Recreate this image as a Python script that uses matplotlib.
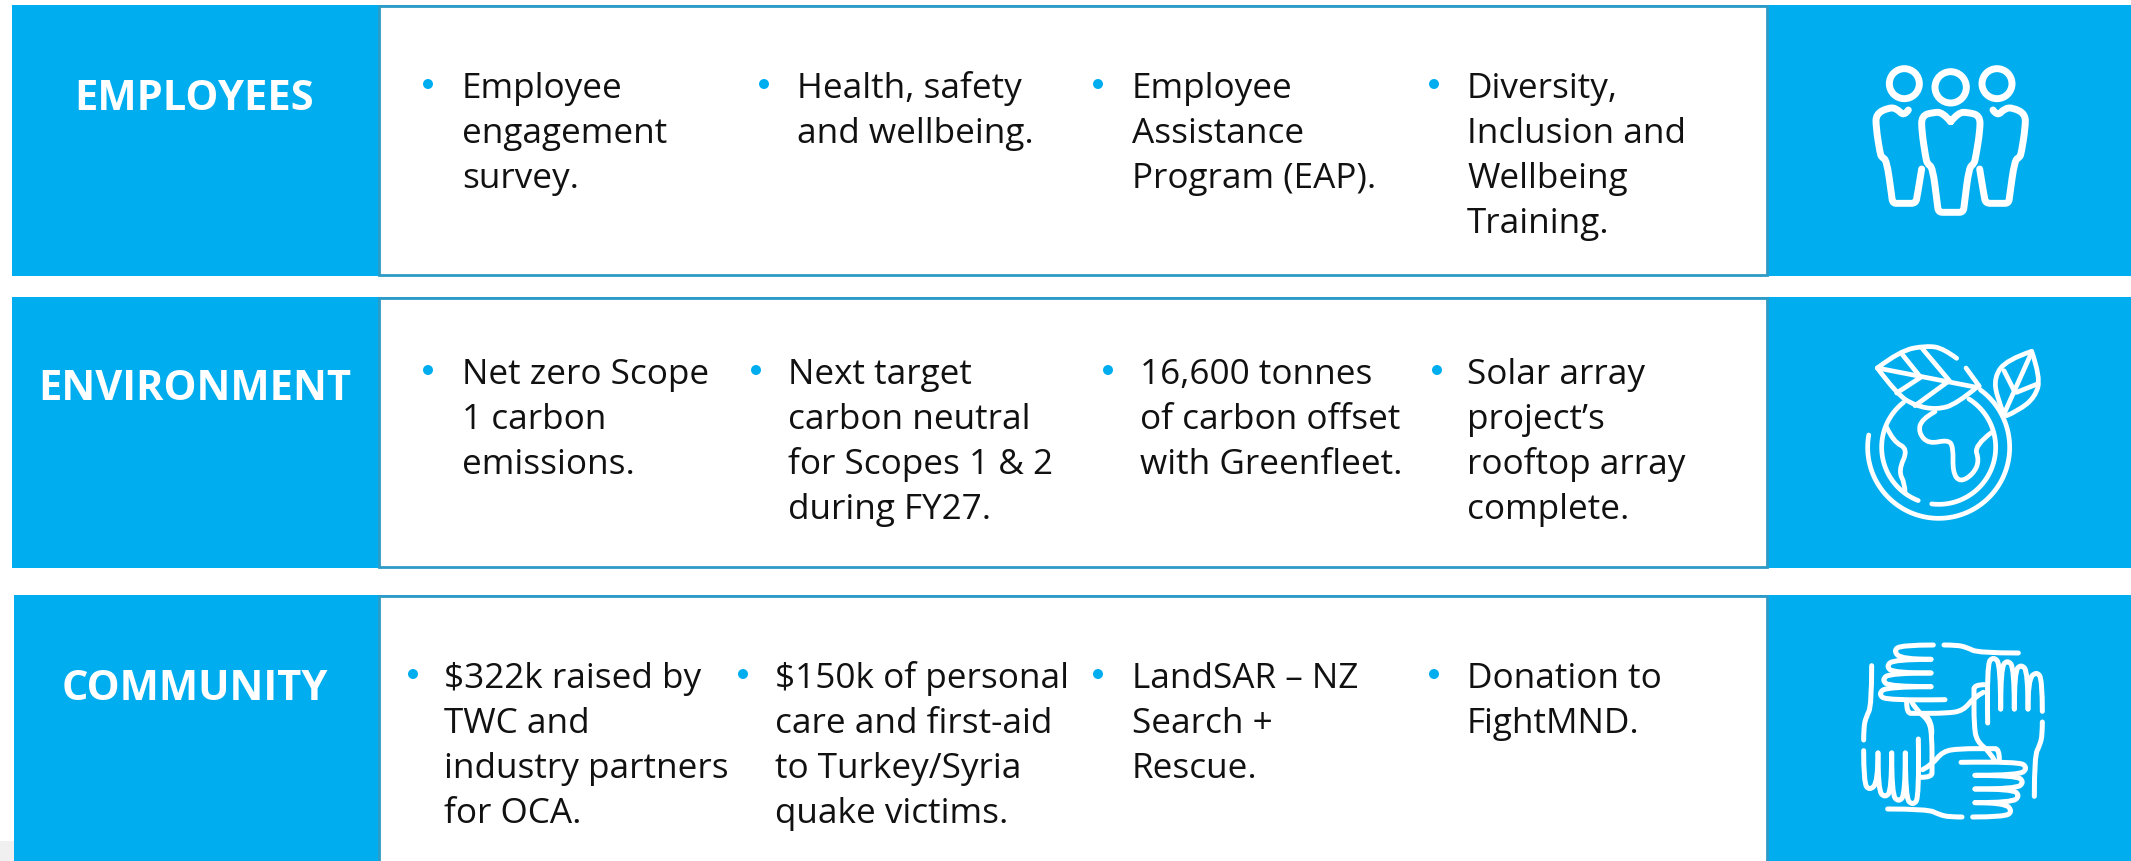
import numpy as np
import matplotlib
matplotlib.use("Agg")
from matplotlib import pyplot as plt
from matplotlib.path import Path
from matplotlib.patches import PathPatch, Rectangle, Circle

BLUE = "#00AEEF"
EDGE = "#2E9BC6"
FONT = "Open Sans"

headings = ["EMPLOYEES", "ENVIRONMENT", "COMMUNITY"]
heading_y = [110, 400, 700]

employees = [["Employee", "engagement", "survey."],
             ["Health, safety", "and wellbeing."],
             ["Employee", "Assistance", "Program (EAP)."],
             ["Diversity,", "Inclusion and", "Wellbeing", "Training."]]
environment = [["Net zero Scope", "1 carbon", "emissions."],
               ["Next target", "carbon neutral", "for Scopes 1 & 2", "during FY27."],
               ["16,600 tonnes", "of carbon offset", "with Greenfleet."],
               ["Solar array", "project\u2019s", "rooftop array", "complete."]]
community = [["$322k raised by", "TWC and", "industry partners", "for OCA."],
             ["$150k of personal", "care and first-aid", "to Turkey/Syria", "quake victims."],
             ["LandSAR \u2013 NZ", "Search +", "Rescue."],
             ["Donation to", "FightMND."]]
row_items = [employees, environment, community]

# row boxes: top, bottom, left edge of the blue box
row_top = [6, 298, 596]
row_bottom = [277, 569, 864]
row_left = [12, 12, 14]
panel_left = 379
panel_right = 1767

# bullet x and text x per column, first baseline per row
bullet_x = [[428, 764, 1098, 1434], [428, 756, 1108, 1437], [413, 743, 1098, 1434]]
text_x = [[462, 797, 1132, 1467], [462, 788, 1140, 1467], [444, 775, 1132, 1467]]
first_baseline = [98, 384, 688]
line_gap = 45

# icon strokes, in pixels of the 3x crops
people_left = [(475, 333), (462, 352), (440, 328), (415, 326), (378, 345), (378, 385), (390, 462),
               (395, 475), (410, 483), (425, 590), (428, 613), (450, 613), (470, 613), (497, 613),
               (502, 590), (515, 510)]
people_mid = [(602, 368), (578, 340), (550, 340), (515, 350), (515, 395), (527, 475), (532, 495),
              (548, 505), (562, 615), (565, 640), (590, 640), (615, 640), (640, 640), (643, 615),
              (657, 505), (672, 495), (677, 475), (690, 395), (690, 350), (655, 340), (625, 340),
              (602, 368)]
leaf_top = [(620, 208), (580, 178), (530, 170), (450, 185), (382, 237)]
leaf_bottom = [(382, 237), (440, 315), (495, 350), (560, 362), (620, 345), (680, 295)]
leaf_stem = [(648, 237), (688, 292)]
leaf_rib = [(382, 237), (680, 295)]
leaf_vein_a = [(458, 198), (512, 265), (440, 312)]
leaf_vein_b = [(518, 180), (598, 275), (495, 350)]
leaf2_left = [(845, 187), (770, 212), (732, 265), (742, 330), (762, 375)]
leaf2_right = [(845, 187), (872, 265), (855, 325), (805, 365), (770, 380)]
leaf2_rib = [(845, 190), (762, 375)]
leaf2_vein_a = [(762, 245), (795, 310)]
leaf2_vein_b = [(862, 285), (800, 310)]
land_a = [(555, 368), (515, 390), (505, 430), (535, 465), (595, 452), (610, 475), (608, 550), (630, 580),
          (670, 555), (688, 515), (672, 470), (725, 430)]
land_b = [(410, 415), (430, 458), (475, 480), (445, 545), (465, 585), (465, 610)]
hand_cuff = [(582, 198), (620, 198), (650, 205), (685, 222), (805, 222)]
hand_finger_a = [(550, 198), (455, 198), (430, 215), (455, 241), (543, 241)]
hand_finger_b = [(543, 241), (432, 241), (408, 262), (432, 282), (543, 282)]
hand_finger_c = [(543, 282), (420, 282), (395, 303), (420, 323), (543, 323)]
hand_finger_d = [(543, 323), (410, 323), (385, 345), (410, 365), (585, 362)]
hand_palm = [(470, 370), (470, 403), (495, 403), (590, 403), (640, 395), (672, 355), (700, 340)]
hand_wrist = [(525, 405), (548, 430), (545, 465)]
# the upright hands sit a little further out than a pure turn gives
hand_shift = [0, 10, 0, -10]


def to_full(pts, ox, oy):
    return [(ox + x / 3, oy + y / 3) for x, y in pts]


def stroke(ax, pts, lw, smooth=True):
    # midpoints stay on the curve, the listed points act as controls
    pts = list(pts)
    if smooth and len(pts) > 2:
        verts = [pts[0]]
        codes = [Path.MOVETO]
        for i in range(1, len(pts) - 1):
            if i < len(pts) - 2:
                end = ((pts[i][0] + pts[i + 1][0]) / 2, (pts[i][1] + pts[i + 1][1]) / 2)
            else:
                end = pts[-1]
            verts += [pts[i], end]
            codes += [Path.CURVE3, Path.CURVE3]
    else:
        verts = pts
        codes = [Path.MOVETO] + [Path.LINETO] * (len(pts) - 1)
    ax.add_patch(PathPatch(Path(verts, codes), fill=False, edgecolor="white", lw=lw,
                           capstyle="round", joinstyle="round", zorder=5))


def arc(ax, cx, cy, r, a0, a1, lw):
    t = np.radians(np.linspace(a0, a1, 120))
    pts = np.column_stack([cx + r * np.cos(t), cy + r * np.sin(t)])
    ax.plot(pts[:, 0], pts[:, 1], color="white", lw=lw, solid_capstyle="round", zorder=5)


fig = plt.figure(figsize=(21.31, 8.62), dpi=100)
ax = fig.add_axes([0, 0, 1, 1])
ax.set_xlim(0, 2131)
ax.set_ylim(862, 0)
ax.axis("off")

# grey corner under the last row
ax.add_patch(Rectangle((0, 842), 14, 20, color="#F0F0F0", lw=0))

for r, heading in enumerate(headings):
    top, bottom, left = row_top[r], row_bottom[r], row_left[r]
    ax.add_patch(Rectangle((left, top), 2131 - left, bottom - top, facecolor=BLUE, edgecolor="none"))
    ax.add_patch(Rectangle((panel_left, top + 1), panel_right - panel_left, bottom - top - 2,
                           facecolor="white", edgecolor=EDGE, lw=2))
    ax.text(194.5, heading_y[r], heading, color="white", fontsize=30, fontweight="bold", family=FONT,
            ha="center", va="baseline")
    for c, lines in enumerate(row_items[r]):
        base = first_baseline[r]
        ax.add_patch(Circle((bullet_x[r][c], base - 13), 5, color=BLUE, lw=0))
        for i, line in enumerate(lines):
            ax.text(text_x[r][c], base + i * line_gap, line, color="#111111", fontsize=25.3, family=FONT,
                    ha="left", va="baseline")

# people icon
ox, oy = 1750, 0
lw = 5
for hx, hy, hr in [(463, 254, 45), (602, 265, 47), (741, 254, 45)]:
    ax.add_patch(Circle((ox + hx / 3, oy + hy / 3), hr / 3, fill=False, edgecolor="white", lw=lw, zorder=5))
stroke(ax, to_full(people_left, ox, oy), lw)
stroke(ax, to_full([(1204 - x, y) for x, y in people_left], ox, oy), lw)
stroke(ax, to_full(people_mid, ox, oy), lw)

# globe icon
ox, oy = 1750, 290
lw = 3.4
gx, gy = ox + 566 / 3, oy + 475 / 3
arc(ax, gx, gy, 71, -54, 190, lw)
arc(ax, gx, gy, 57, -58, 97, lw)
arc(ax, gx, gy, 57, 111, 232, lw)
for pts in [leaf_top, leaf_bottom, leaf2_left, leaf2_right, land_a, land_b]:
    stroke(ax, to_full(pts, ox, oy), lw)
for pts in [leaf_stem, leaf_rib, leaf_vein_a, leaf_vein_b, leaf2_rib, leaf2_vein_a, leaf2_vein_b]:
    stroke(ax, to_full(pts, ox, oy), lw, smooth=False)

# hands icon, the same hand turned four times
ox, oy = 1750, 580
lw = 3.6
cx, cy = 609, 456
hand = [hand_cuff, hand_finger_a, hand_finger_b, hand_finger_c, hand_finger_d, hand_palm]
for turn in range(4):
    for pts in hand:
        turned = []
        for x, y in pts:
            dx, dy = x - cx, y - cy
            for _ in range(turn):
                dx, dy = -dy, dx
            turned.append((cx + dx + hand_shift[turn], cy + dy))
        stroke(ax, to_full(turned, ox, oy), lw)
stroke(ax, to_full(hand_wrist, ox, oy), lw)

fig.savefig("out.png", dpi=100, facecolor="white")
